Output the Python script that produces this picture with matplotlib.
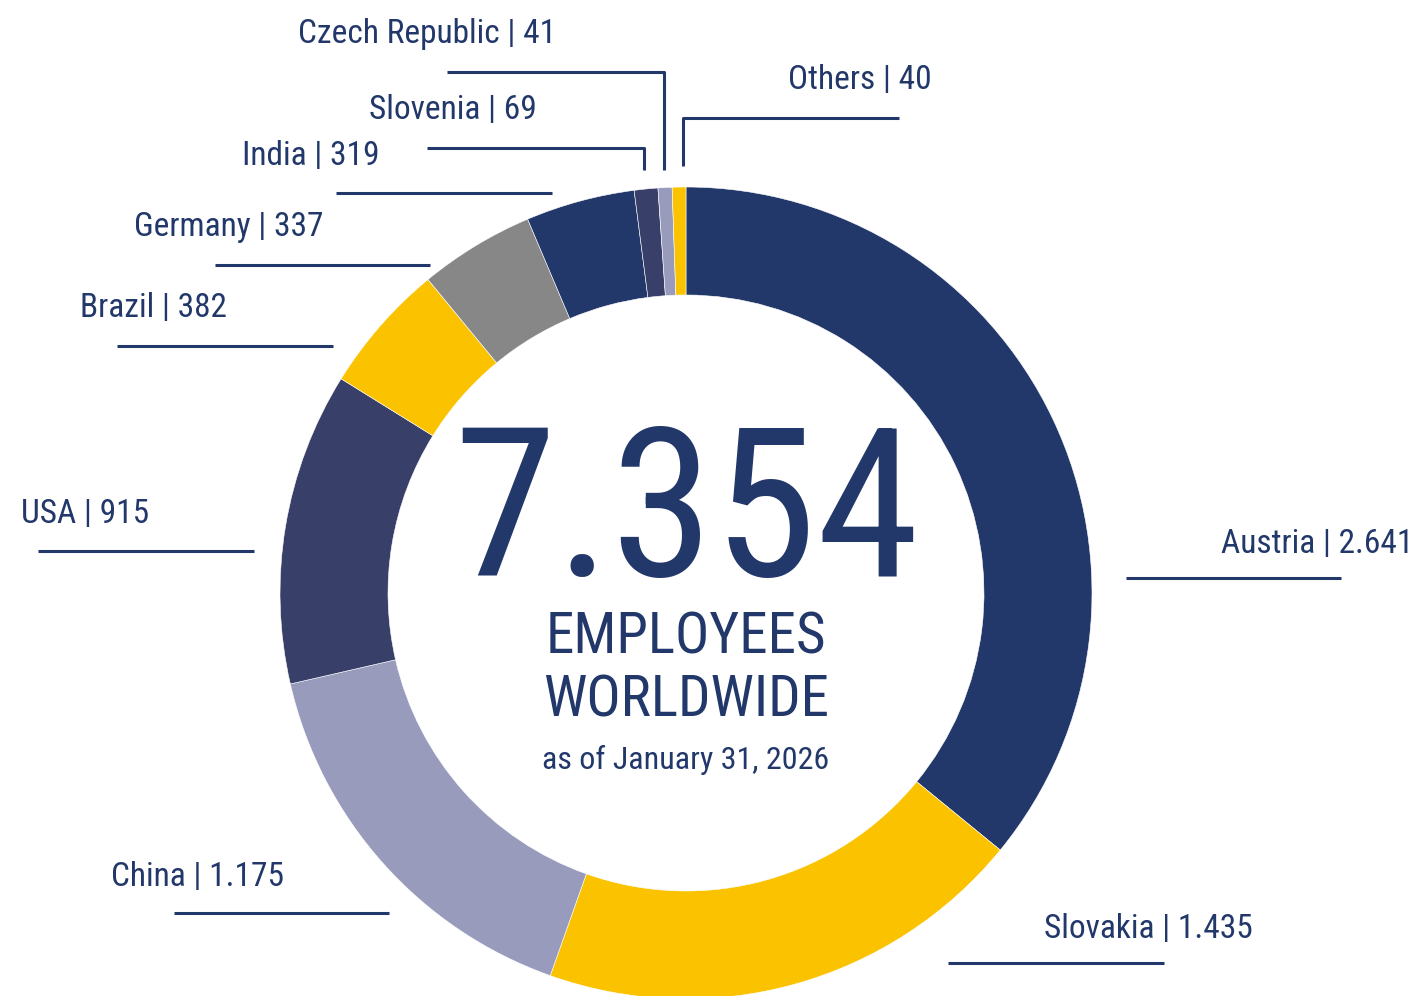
import matplotlib
matplotlib.use("Agg")
import matplotlib.pyplot as plt
from matplotlib import font_manager

# Employee headcount per country
countries = ["Austria", "Slovakia", "China", "USA", "Brazil", "Germany",
             "India", "Slovenia", "Czech Republic", "Others"]
employees = [2641, 1435, 1175, 915, 382, 337, 319, 69, 41, 40]
colors = ["#22376A", "#FBC200", "#989BBC", "#383F68", "#FBC200", "#878787",
          "#22376A", "#383F68", "#989BBC", "#FBC200"]
date_text = "as of January 31, 2026"

TEXT = "#22376A"
W, H = 1417, 996

available = {f.name for f in font_manager.fontManager.ttflist}
family = "DejaVu Sans"
for cand in ["Liberation Sans Narrow", "Roboto Condensed", "Open Sans Condensed",
             "Noto Sans Condensed", "Liberation Sans"]:
    if cand in available:
        family = cand
        break
plt.rcParams["font.family"] = [family, "DejaVu Sans"]


def fmt(v):
    return f"{v:,}".replace(",", ".")


fig = plt.figure(figsize=(W / 100, H / 100), dpi=100)
ax = fig.add_axes([0, 0, 1, 1])


def Y(py):
    # convert pixel row (from top) into axis y
    return H - py


cx, cy, r_out, ring = 686, 593, 406, 108
ax.pie(employees, colors=colors, startangle=90, counterclock=False,
       center=(cx, Y(cy)), radius=r_out, frame=True,
       wedgeprops=dict(width=ring, linewidth=0.4, edgecolor="white"))
ax.set_xlim(0, W)
ax.set_ylim(0, H)
ax.set_aspect("equal")
ax.axis("off")

# label anchor (right edge x, baseline y) and leader line polyline
labels_layout = {
    "Austria": ((1413, 553), [(1126, 578), (1341, 578)]),
    "Slovakia": ((1253, 938), [(948, 963), (1164, 963)]),
    "China": ((284, 886), [(174, 913), (389, 913)]),
    "USA": ((149, 523), [(38, 551), (254, 551)]),
    "Brazil": ((227, 317), [(117, 346), (333, 346)]),
    "Germany": ((323, 236), [(215, 265), (430, 265)]),
    "India": ((379, 165), [(336, 193), (552, 193)]),
    "Slovenia": ((537, 119), [(427, 148), (644, 148), (644, 170)]),
    "Czech Republic": ((556, 43), [(447, 72), (664, 72), (664, 170)]),
    "Others": ((932, 89), [(899, 118), (683, 118), (683, 166)]),
}

for name, val in zip(countries, employees):
    (tx, ty), line = labels_layout[name]
    ax.text(tx, Y(ty), f"{name} | {fmt(val)}", ha="right", va="baseline",
            fontsize=24, color=TEXT)
    xs = [p[0] for p in line]
    ys = [Y(p[1]) for p in line]
    ax.plot(xs, ys, color=TEXT, lw=2.2, solid_capstyle="butt")

total = sum(employees)
ax.text(cx, Y(576), fmt(total), ha="center", va="baseline",
        fontsize=150, color=TEXT)
ax.text(cx, Y(653), "EMPLOYEES", ha="center", va="baseline",
        fontsize=41, color=TEXT)
ax.text(cx, Y(716), "WORLDWIDE", ha="center", va="baseline",
        fontsize=41, color=TEXT)
ax.text(cx, Y(769), date_text, ha="center", va="baseline",
        fontsize=23, color=TEXT)

fig.savefig("out.png", dpi=100, facecolor="white")
